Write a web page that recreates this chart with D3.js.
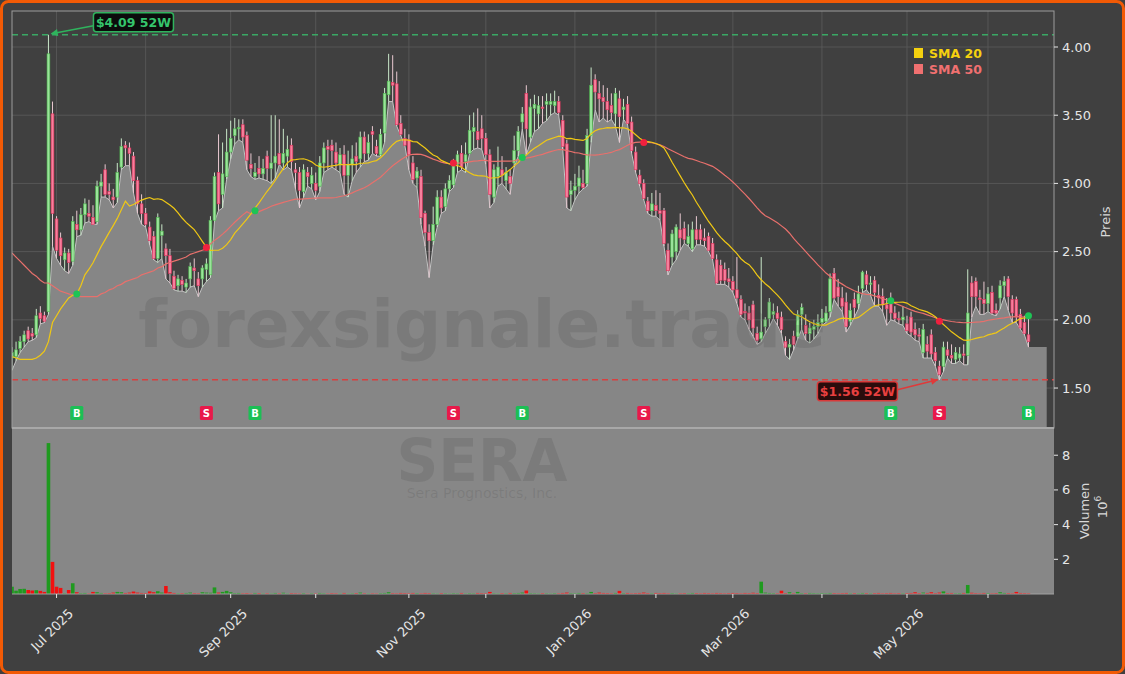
<!DOCTYPE html>
<html>
<head>
<meta charset="utf-8">
<script src="https://cdn.jsdelivr.net/npm/d3@7"></script>
<style>
  html, body { margin: 0; padding: 0; background: #404040; }
  svg { display: block; font-family: "DejaVu Sans", sans-serif; }
</style>
</head>
<body>
<svg id="chart"></svg>
<script>
// daily candles, index = trading day (0 = 2025-06-13), [open, high, low, close]
var OHLC = [
  [1.72,1.80,1.63,1.76],[1.73,1.84,1.70,1.78],[1.79,1.88,1.76,1.84],[1.84,1.92,1.80,1.89],[1.92,1.95,1.84,1.86],
  [1.90,1.94,1.85,1.88],[1.89,2.08,1.87,2.03],[2.05,2.10,1.97,2.01],[2.03,2.06,1.98,1.99],[2.06,4.09,2.04,3.95],
  [3.51,3.60,2.54,2.78],[2.74,2.76,2.45,2.51],[2.60,2.64,2.40,2.47],[2.44,2.53,2.36,2.49],[2.49,2.52,2.34,2.42],
  [2.43,2.76,2.40,2.72],[2.70,2.80,2.61,2.66],[2.66,2.82,2.62,2.77],[2.77,2.89,2.71,2.85],[2.78,2.88,2.72,2.76],
  [2.75,2.84,2.70,2.70],[2.72,3.02,2.70,2.98],[2.98,3.07,2.90,3.01],[3.10,3.14,2.90,2.92],[2.94,3.00,2.88,2.92],
  [2.90,2.96,2.82,2.88],[2.90,3.15,2.86,3.08],[3.12,3.33,3.10,3.27],[3.28,3.31,3.13,3.26],[3.26,3.30,3.13,3.22],
  [3.20,3.23,2.93,3.02],[3.02,3.05,2.78,2.85],[2.85,2.92,2.70,2.78],[2.78,2.82,2.68,2.70],[2.68,2.72,2.55,2.58],
  [2.61,2.65,2.44,2.45],[2.45,2.78,2.42,2.75],[2.62,2.70,2.45,2.65],[2.52,2.56,2.30,2.47],[2.47,2.52,2.27,2.34],
  [2.32,2.36,2.22,2.23],[2.25,2.33,2.21,2.30],[2.29,2.32,2.21,2.26],[2.24,2.30,2.20,2.27],[2.30,2.42,2.24,2.39],
  [2.38,2.45,2.25,2.36],[2.30,2.35,2.17,2.25],[2.30,2.40,2.24,2.38],[2.37,2.45,2.28,2.41],[2.33,2.76,2.31,2.73],
  [2.73,3.08,2.72,3.05],[3.08,3.36,2.80,2.85],[2.92,3.30,2.82,3.07],[3.05,3.40,3.03,3.23],[3.23,3.46,3.18,3.33],
  [3.35,3.48,3.29,3.40],[3.40,3.47,3.32,3.41],[3.43,3.47,3.30,3.34],[3.35,3.38,3.10,3.17],[3.14,3.22,3.05,3.11],
  [3.05,3.15,3.03,3.08],[3.11,3.20,3.04,3.07],[3.07,3.18,3.03,3.11],[3.20,3.24,3.02,3.11],[3.11,3.50,3.00,3.15],
  [3.15,3.50,3.04,3.20],[3.22,3.47,3.14,3.14],[3.15,3.40,3.10,3.22],[3.20,3.35,3.12,3.25],[3.28,3.33,3.10,3.16],
  [3.10,3.15,2.96,3.08],[3.08,3.12,2.82,2.95],[2.94,3.14,2.90,3.10],[3.08,3.12,2.98,3.05],[3.00,3.12,2.96,3.06],
  [3.00,3.08,2.88,2.95],[2.98,3.20,2.94,3.15],[3.15,3.30,3.08,3.26],[3.27,3.32,3.10,3.25],[3.28,3.32,3.12,3.24],
  [3.23,3.30,3.10,3.15],[3.14,3.26,3.08,3.21],[3.21,3.28,2.92,3.06],[3.06,3.24,2.90,3.14],[3.14,3.28,3.02,3.18],
  [3.20,3.30,3.08,3.16],[3.18,3.38,3.12,3.34],[3.34,3.38,3.16,3.22],[3.22,3.36,3.17,3.30],[3.38,3.42,3.22,3.36],
  [3.27,3.32,3.20,3.22],[3.21,3.40,3.20,3.36],[3.37,3.70,3.30,3.66],[3.65,3.95,3.60,3.75],[3.74,3.94,3.60,3.72],
  [3.73,3.82,3.42,3.43],[3.44,3.50,3.35,3.36],[3.33,3.40,3.28,3.28],[3.32,3.36,3.10,3.21],[3.15,3.20,3.00,3.03],
  [3.04,3.12,2.97,3.09],[3.05,3.10,2.70,2.75],[2.78,2.80,2.54,2.64],[2.64,2.70,2.31,2.58],[2.58,2.83,2.55,2.70],
  [2.70,2.95,2.68,2.90],[2.90,2.95,2.78,2.82],[2.83,3.00,2.80,2.96],[2.96,3.06,2.94,3.02],[2.99,3.18,2.97,3.15],
  [3.14,3.24,3.08,3.21],[3.22,3.28,3.10,3.12],[3.16,3.30,3.08,3.21],[3.22,3.50,3.22,3.39],[3.38,3.52,3.25,3.41],
  [3.38,3.55,3.26,3.32],[3.40,3.50,3.25,3.33],[3.33,3.37,3.14,3.21],[3.21,3.25,2.82,2.92],[2.90,3.14,2.86,3.10],
  [3.05,3.27,2.98,3.12],[3.10,3.20,3.00,3.06],[3.02,3.12,2.96,3.08],[3.05,3.10,2.92,3.00],[3.15,3.35,3.12,3.24],
  [3.24,3.42,3.20,3.38],[3.45,3.56,3.40,3.51],[3.66,3.72,3.21,3.40],[3.34,3.62,3.30,3.56],[3.55,3.65,3.38,3.58],
  [3.51,3.64,3.40,3.57],[3.56,3.64,3.44,3.55],[3.58,3.66,3.46,3.60],[3.58,3.66,3.50,3.60],[3.57,3.68,3.52,3.60],
  [3.60,3.64,3.50,3.52],[3.46,3.50,3.25,3.27],[3.29,3.32,2.82,2.90],[2.92,3.02,2.80,2.95],[2.95,3.07,2.88,2.98],
  [2.98,3.13,2.93,3.04],[3.00,3.10,2.96,2.97],[3.00,3.40,2.98,3.35],[3.35,3.85,3.30,3.72],[3.76,3.80,3.54,3.67],
  [3.66,3.75,3.45,3.62],[3.63,3.72,3.48,3.60],[3.60,3.70,3.45,3.54],[3.57,3.66,3.47,3.52],[3.51,3.70,3.42,3.66],
  [3.62,3.68,3.30,3.49],[3.54,3.62,3.47,3.56],[3.58,3.64,3.43,3.44],[3.45,3.49,3.22,3.24],[3.23,3.27,3.08,3.10],
  [3.06,3.10,2.98,3.00],[3.00,3.03,2.88,2.89],[2.87,2.90,2.78,2.80],[2.80,2.93,2.76,2.85],[2.84,2.95,2.76,2.80],
  [2.80,2.93,2.73,2.78],[2.80,2.82,2.54,2.56],[2.51,2.56,2.33,2.36],[2.46,2.66,2.40,2.63],[2.50,2.70,2.44,2.68],
  [2.66,2.78,2.51,2.60],[2.67,2.72,2.56,2.59],[2.56,2.70,2.54,2.61],[2.52,2.72,2.50,2.66],[2.66,2.76,2.55,2.59],
  [2.66,2.70,2.55,2.59],[2.60,2.67,2.54,2.58],[2.61,2.64,2.50,2.51],[2.56,2.60,2.44,2.45],[2.44,2.48,2.26,2.27],
  [2.40,2.44,2.26,2.29],[2.37,2.42,2.26,2.29],[2.30,2.38,2.24,2.28],[2.28,2.32,2.20,2.22],[2.22,2.46,2.12,2.16],
  [2.15,2.18,2.02,2.04],[2.06,2.12,2.00,2.05],[2.05,2.10,1.93,2.00],[2.11,2.14,1.88,1.94],[1.90,1.95,1.82,1.85],
  [1.86,2.46,1.84,1.91],[1.95,2.02,1.90,2.00],[2.01,2.16,1.95,2.13],[2.04,2.12,2.01,2.06],[2.05,2.10,1.96,2.01],
  [2.02,2.06,1.90,1.93],[1.84,1.88,1.74,1.80],[1.80,1.86,1.71,1.82],[1.88,1.92,1.78,1.82],[1.88,2.07,1.86,2.04],
  [2.04,2.12,1.93,2.09],[1.96,2.04,1.85,1.90],[1.90,1.98,1.83,1.94],[1.93,2.00,1.86,1.95],[1.95,2.04,1.90,1.98],
  [1.98,2.08,1.96,2.01],[1.99,2.10,1.98,2.05],[2.06,2.34,2.02,2.30],[2.34,2.38,2.15,2.16],[2.24,2.30,2.10,2.17],
  [2.16,2.24,2.06,2.10],[2.13,2.20,1.91,1.95],[1.99,2.12,1.96,2.07],[2.15,2.20,2.02,2.09],[2.12,2.25,2.08,2.19],
  [2.23,2.36,2.20,2.35],[2.33,2.36,2.22,2.26],[2.26,2.32,2.18,2.27],[2.29,2.32,2.10,2.20],[2.18,2.26,2.10,2.16],
  [2.17,2.23,2.06,2.11],[2.11,2.16,1.96,2.08],[2.14,2.20,2.00,2.05],[2.05,2.10,1.99,2.01],[2.01,2.06,1.97,2.00],
  [2.00,2.10,1.96,2.02],[1.97,2.03,1.90,1.92],[2.02,2.06,1.88,1.91],[1.93,1.98,1.85,1.89],[1.89,1.94,1.84,1.88],
  [1.76,1.97,1.72,1.93],[1.82,1.88,1.72,1.77],[1.89,1.93,1.72,1.75],[1.76,1.80,1.66,1.70],[1.66,1.70,1.56,1.60],
  [1.66,1.84,1.62,1.80],[1.78,1.84,1.72,1.74],[1.74,1.82,1.68,1.72],[1.71,1.80,1.68,1.76],[1.72,1.80,1.70,1.75],
  [1.75,1.82,1.67,1.74],[1.74,2.37,1.67,2.05],[2.27,2.32,2.02,2.17],[2.28,2.31,2.10,2.17],[2.16,2.22,2.04,2.15],
  [2.15,2.28,2.04,2.12],[2.12,2.24,2.06,2.19],[2.20,2.25,2.04,2.05],[2.07,2.12,2.03,2.05],[2.16,2.29,2.08,2.25],
  [2.25,2.32,2.17,2.28],[2.30,2.32,2.07,2.17],[2.15,2.18,1.98,2.05],[2.15,2.17,1.98,2.02],[2.04,2.08,1.93,1.94],
  [1.98,2.03,1.89,1.90],[1.89,2.02,1.80,1.84]
];

// volume in millions
var VOLUME = [
  0.42,0.19,0.29,0.30,0.23,0.20,0.22,0.18,0.12,8.70, 1.85,0.42,0.35,0.04,0.23,0.62,0.10,0.05,0.06,0.03,
  0.12,0.10,0.06,0.04,0.05,0.08,0.12,0.10,0.06,0.08, 0.14,0.08,0.06,0.05,0.15,0.10,0.16,0.08,0.46,0.10,
  0.06,0.04,0.05,0.06,0.08,0.05,0.04,0.10,0.08,0.07, 0.38,0.08,0.12,0.18,0.10,0.05,0.06,0.04,0.05,0.03,
  0.06,0.05,0.03,0.04,0.03,0.06,0.04,0.07,0.03,0.05, 0.04,0.03,0.05,0.02,0.04,0.03,0.06,0.04,0.03,0.05,
  0.04,0.03,0.06,0.03,0.04,0.05,0.08,0.04,0.03,0.04, 0.03,0.05,0.06,0.10,0.05,0.04,0.06,0.05,0.04,0.06,
  0.05,0.04,0.06,0.05,0.04,0.03,0.05,0.04,0.03,0.05, 0.04,0.06,0.03,0.05,0.04,0.06,0.05,0.04,0.12,0.04,
  0.03,0.05,0.04,0.06,0.05,0.06,0.08,0.20,0.05,0.04, 0.03,0.05,0.04,0.03,0.05,0.04,0.06,0.08,0.05,0.04,
  0.06,0.05,0.04,0.12,0.05,0.08,0.06,0.05,0.04,0.06, 0.18,0.05,0.06,0.04,0.05,0.06,0.08,0.05,0.04,0.06,
  0.05,0.06,0.04,0.05,0.03,0.04,0.05,0.04,0.06,0.05, 0.04,0.06,0.05,0.04,0.06,0.05,0.04,0.05,0.06,0.05,
  0.04,0.06,0.05,0.07,0.05,0.71,0.08,0.06,0.05,0.04, 0.19,0.05,0.10,0.04,0.12,0.05,0.04,0.06,0.05,0.04,
  0.05,0.04,0.06,0.05,0.04,0.05,0.06,0.04,0.05,0.04, 0.06,0.05,0.04,0.05,0.06,0.04,0.05,0.06,0.04,0.05,
  0.04,0.05,0.06,0.10,0.05,0.08,0.06,0.10,0.05,0.08, 0.15,0.05,0.06,0.04,0.05,0.06,0.52,0.07,0.05,0.04,
  0.06,0.05,0.04,0.05,0.10,0.06,0.05,0.04,0.12,0.06, 0.05,0.04
];

// moving averages before enough closes exist in the window
var SMA20_HEAD = [1.73,1.72,1.71,1.71,1.71,1.71,1.72,1.74,1.77,1.84,1.98,2.03,2.08,2.12,2.16,2.18,2.19,2.25,2.33];
var SMA50_HEAD = [2.49,2.46,2.43,2.40,2.37,2.34,2.32,2.29,2.27,2.27,2.25,2.23,2.21,2.20,2.19,2.18,2.18,2.17,2.17,2.17,
                  2.17,2.17,2.19,2.20,2.22,2.23,2.25,2.26,2.28,2.29,2.30,2.31,2.33,2.34,2.35,2.36,2.38,2.39,2.41,2.42,
                  2.43,2.44,2.45,2.46,2.48,2.49,2.50,2.51,2.52];

// buy / sell signals: candle index, type, level of the marker dot
var SIGNALS = [
  {i: 16, t: "B", p: 2.19}, {i: 48, t: "S", p: 2.53}, {i: 60, t: "B", p: 2.80},
  {i: 109, t: "S", p: 3.15}, {i: 126, t: "B", p: 3.19}, {i: 156, t: "S", p: 3.30},
  {i: 217, t: "B", p: 2.14}, {i: 229, t: "S", p: 1.99}, {i: 251, t: "B", p: 2.03}
];

var HIGH_52W = {i: 9, p: 4.09, label: "$4.09 52W"};
var LOW_52W = {i: 229, p: 1.56, label: "$1.56 52W"};

// month starts as trading-day index
var MONTH_TICKS = [
  {i: 11, label: "Jul 2025"}, {i: 33, label: ""}, {i: 54, label: "Sep 2025"}, {i: 75, label: ""},
  {i: 98, label: "Nov 2025"}, {i: 117, label: ""}, {i: 139, label: "Jan 2026"}, {i: 159, label: ""},
  {i: 178, label: "Mar 2026"}, {i: 200, label: ""}, {i: 221, label: "May 2026"}, {i: 241, label: ""}
];
var PRICE_TICKS = [1.5, 2.0, 2.5, 3.0, 3.5, 4.0];
var VOL_TICKS = [2, 4, 6, 8];

var width = 1125, height = 674;
var plotLeft = 12, plotRight = 1054, plotTop = 11, priceBottom = 428, volBottom = 594;

var CLOSE = OHLC.map(d => d[3]);
var candles = OHLC.map((d, i) => ({i: i, o: d[0], h: d[1], l: d[2], c: d[3], v: VOLUME[i]}));

function sma(n, head) {
  return CLOSE.map((c, i) => ({i: i, v: i < n - 1 ? head[i] : d3.mean(CLOSE.slice(i - n + 1, i + 1))}));
}
var sma20 = sma(20, SMA20_HEAD);
var sma50 = sma(50, SMA50_HEAD);

var x = d3.scaleLinear().domain([0, 257.3]).range([plotLeft, plotRight]);
var y = d3.scaleLinear().domain([1.207, 4.264]).range([priceBottom, plotTop]);
var yv = d3.scaleLinear().domain([0, 9.57]).range([volBottom, priceBottom]);

var svg = d3.select("#chart").attr("width", width).attr("height", height);

svg.append("rect")
  .attr("x", 1.5).attr("y", 1.5).attr("width", width - 3).attr("height", height - 3)
  .attr("rx", 7).attr("fill", "#404040").attr("stroke", "#f25a05").attr("stroke-width", 3);

var defs = svg.append("defs");
defs.append("clipPath").attr("id", "clipPrice").append("rect")
  .attr("x", plotLeft).attr("y", plotTop).attr("width", plotRight - plotLeft).attr("height", priceBottom - plotTop);
defs.append("clipPath").attr("id", "clipVol").append("rect")
  .attr("x", plotLeft).attr("y", priceBottom).attr("width", plotRight - plotLeft).attr("height", volBottom - priceBottom);
[["arrGreen", "#2fb35d"], ["arrRed", "#e03a3a"]].forEach(a => {
  defs.append("marker").attr("id", a[0]).attr("viewBox", "0 0 10 10")
    .attr("refX", 9).attr("refY", 5).attr("markerWidth", 9).attr("markerHeight", 7)
    .attr("markerUnits", "userSpaceOnUse").attr("orient", "auto")
    .append("path").attr("d", "M0,0L10,5L0,10z").attr("fill", a[1]);
});

// ---------- price panel ----------
var gp = svg.append("g").attr("clip-path", "url(#clipPrice)");

gp.append("g").selectAll("line").data(PRICE_TICKS).join("line")
  .attr("x1", plotLeft).attr("x2", plotRight).attr("y1", d => y(d)).attr("y2", d => y(d))
  .attr("stroke", "#5c5c5c").attr("stroke-width", 0.8);
gp.append("g").selectAll("line").data(MONTH_TICKS).join("line")
  .attr("x1", d => x(d.i)).attr("x2", d => x(d.i)).attr("y1", plotTop).attr("y2", priceBottom)
  .attr("stroke", "#5c5c5c").attr("stroke-width", 0.8);

// area under the lows, held flat a few days past the last candle
var last = candles[candles.length - 1];
var areaData = candles.concat([{i: last.i + 4.5, l: last.l}]);
gp.append("path").datum(areaData)
  .attr("fill", "#868686")
  .attr("d", d3.area().x(d => x(d.i)).y0(priceBottom).y1(d => y(d.l)));
gp.append("path").datum(candles)
  .attr("fill", "none").attr("stroke", "#c4c4c4").attr("stroke-width", 1)
  .attr("d", d3.line().x(d => x(d.i)).y(d => y(d.l)));

// volume panel background (drawn before the watermarks so they show on it)
svg.append("rect").attr("x", plotLeft).attr("y", priceBottom).attr("width", plotRight - plotLeft).attr("height", volBottom - priceBottom)
  .attr("fill", "#878787");

// watermarks
var wm = svg.append("g").attr("fill", "#404040").attr("fill-opacity", 0.16).attr("text-anchor", "middle");
wm.append("text").attr("x", 482).attr("y", 347).attr("font-size", 66).attr("font-weight", "bold").text("forexsignale.trade");
wm.append("text").attr("x", 482).attr("y", 481).attr("font-size", 58).attr("font-weight", "bold").text("SERA");
wm.append("text").attr("x", 482).attr("y", 498).attr("font-size", 14).text("Sera Prognostics, Inc.");

// 52 week lines
gp.append("line").attr("x1", plotLeft).attr("x2", plotRight)
  .attr("y1", y(HIGH_52W.p)).attr("y2", y(HIGH_52W.p))
  .attr("stroke", "#3aa864").attr("stroke-width", 1.5).attr("stroke-dasharray", "6,4");
gp.append("line").attr("x1", plotLeft).attr("x2", plotRight)
  .attr("y1", y(LOW_52W.p)).attr("y2", y(LOW_52W.p))
  .attr("stroke", "#d84040").attr("stroke-width", 1.5).attr("stroke-dasharray", "6,4");

// candles
var bw = 2.8;
var gc = gp.append("g");
gc.selectAll("line").data(candles).join("line")
  .attr("x1", d => x(d.i)).attr("x2", d => x(d.i))
  .attr("y1", d => y(d.h)).attr("y2", d => y(d.l))
  .attr("stroke", d => d.c >= d.o ? "#c8e6c8" : "#e8c8d0").attr("stroke-width", 1);
gc.selectAll("rect").data(candles).join("rect")
  .attr("x", d => x(d.i) - bw / 2).attr("width", bw)
  .attr("y", d => y(Math.max(d.o, d.c)))
  .attr("height", d => Math.max(1, Math.abs(y(d.o) - y(d.c))))
  .attr("fill", d => d.c >= d.o ? "#9be39b" : "#f77f9c")
  .attr("stroke", d => d.c >= d.o ? "#4cb84c" : "#e0305a").attr("stroke-width", 0.6);

// moving averages
var smaLine = d3.line().x(d => x(d.i)).y(d => y(d.v));
gp.append("path").datum(sma50).attr("fill", "none").attr("stroke", "#e8706c").attr("stroke-width", 1.2).attr("d", smaLine);
gp.append("path").datum(sma20).attr("fill", "none").attr("stroke", "#f0c814").attr("stroke-width", 1.2).attr("d", smaLine);

// signal dots and B / S boxes
gp.append("g").selectAll("circle").data(SIGNALS).join("circle")
  .attr("cx", d => x(d.i)).attr("cy", d => y(d.p)).attr("r", 3.5)
  .attr("fill", d => d.t === "B" ? "#1ec455" : "#f0203e");
var gs = gp.append("g").selectAll("g").data(SIGNALS).join("g")
  .attr("transform", d => `translate(${x(d.i)},${priceBottom - 15})`);
gs.append("rect").attr("x", -6.5).attr("y", -7).attr("width", 13).attr("height", 14).attr("rx", 1.5)
  .attr("fill", d => d.t === "B" ? "#1cbf55" : "#e8194a");
gs.append("text").attr("text-anchor", "middle").attr("dy", "0.36em")
  .attr("font-size", 10).attr("font-weight", "bold").attr("fill", "#fff").text(d => d.t);

// frame
svg.append("rect").attr("x", plotLeft).attr("y", plotTop).attr("width", plotRight - plotLeft).attr("height", priceBottom - plotTop)
  .attr("fill", "none").attr("stroke", "#9c9c9c").attr("stroke-width", 1);

// 52W annotations
var hx = x(HIGH_52W.i), hy = y(HIGH_52W.p);
svg.append("line").attr("x1", hx + 45).attr("y1", hy - 9).attr("x2", hx + 3).attr("y2", hy - 1)
  .attr("stroke", "#2fb35d").attr("stroke-width", 1.6).attr("marker-end", "url(#arrGreen)");
var hb = svg.append("g").attr("transform", `translate(${hx + 45},${hy - 22})`);
hb.append("rect").attr("width", 80).attr("height", 19).attr("rx", 3)
  .attr("fill", "#0c0c0c").attr("stroke", "#2fb35d").attr("stroke-width", 1.5);
hb.append("text").attr("x", 40).attr("y", 14).attr("text-anchor", "middle")
  .attr("font-size", 12.5).attr("font-weight", "bold").attr("fill", "#35c46c").text(HIGH_52W.label);

var lx = x(LOW_52W.i), ly = y(LOW_52W.p);
svg.append("line").attr("x1", lx - 42).attr("y1", ly + 10).attr("x2", lx - 2).attr("y2", ly)
  .attr("stroke", "#e03a3a").attr("stroke-width", 1.6).attr("marker-end", "url(#arrRed)");
var lb = svg.append("g").attr("transform", `translate(${lx - 122},${ly + 2})`);
lb.append("rect").attr("width", 80).attr("height", 19).attr("rx", 3)
  .attr("fill", "#2a0c0c").attr("stroke", "#d83a3a").attr("stroke-width", 1.5);
lb.append("text").attr("x", 40).attr("y", 14).attr("text-anchor", "middle")
  .attr("font-size", 12.5).attr("font-weight", "bold").attr("fill", "#e84040").text(LOW_52W.label);

// legend
var legend = svg.append("g").attr("transform", "translate(914,48)");
[["SMA 20", "#f5d10f"], ["SMA 50", "#f07070"]].forEach((l, k) => {
  legend.append("rect").attr("x", 0).attr("y", k * 16).attr("width", 9).attr("height", 10).attr("fill", l[1]);
  legend.append("text").attr("x", 15).attr("y", k * 16 + 9.5)
    .attr("font-size", 12.5).attr("font-weight", "bold").attr("fill", l[1]).text(l[0]);
});

// ---------- volume panel ----------
var gv = svg.append("g").attr("clip-path", "url(#clipVol)");
gv.selectAll("rect").data(candles).join("rect")
  .attr("x", d => x(d.i) - 1.8).attr("width", 3.6)
  .attr("y", d => yv(d.v)).attr("height", d => volBottom - yv(d.v))
  .attr("fill", d => d.c >= d.o ? "#1f9a1f" : "#f21010");
svg.append("line").attr("x1", plotLeft).attr("x2", plotRight).attr("y1", priceBottom).attr("y2", priceBottom)
  .attr("stroke", "#a8a8a8").attr("stroke-width", 2);
svg.append("line").attr("x1", plotLeft).attr("x2", plotRight).attr("y1", volBottom).attr("y2", volBottom)
  .attr("stroke", "#a0a0a0").attr("stroke-width", 1);

// ---------- axes ----------
var axisCol = "#e6e6e6";
var yAxis = svg.append("g").selectAll("g").data(PRICE_TICKS).join("g")
  .attr("transform", d => `translate(${plotRight},${y(d)})`);
yAxis.append("line").attr("x2", 4).attr("stroke", axisCol);
yAxis.append("text").attr("x", 8).attr("dy", "0.35em").attr("font-size", 13).attr("fill", axisCol)
  .text(d => d3.format(".2f")(d));

var vAxis = svg.append("g").selectAll("g").data(VOL_TICKS).join("g")
  .attr("transform", d => `translate(${plotRight},${yv(d)})`);
vAxis.append("line").attr("x2", 4).attr("stroke", axisCol);
vAxis.append("text").attr("x", 8).attr("dy", "0.35em").attr("font-size", 13).attr("fill", axisCol).text(d => d);

svg.append("text").attr("transform", "translate(1110,222) rotate(-90)").attr("text-anchor", "middle")
  .attr("font-size", 13).attr("fill", "#d8d8d8").text("Preis");
svg.append("text").attr("transform", "translate(1089,511) rotate(-90)").attr("text-anchor", "middle")
  .attr("font-size", 13).attr("fill", "#d8d8d8").text("Volumen");
var sci = svg.append("text").attr("transform", "translate(1107,507) rotate(-90)").attr("text-anchor", "middle")
  .attr("font-size", 13).attr("fill", "#d8d8d8");
sci.append("tspan").text("10");
sci.append("tspan").attr("dy", -6).attr("font-size", 9).text("6");

var xAxis = svg.append("g").selectAll("g").data(MONTH_TICKS).join("g")
  .attr("transform", d => `translate(${x(d.i)},${volBottom})`);
xAxis.append("line").attr("y2", 4).attr("stroke", axisCol);
xAxis.append("text").attr("transform", "translate(11,14) rotate(-45)").attr("text-anchor", "end")
  .attr("dy", "0.7em").attr("font-size", 13).attr("fill", axisCol).text(d => d.label);
</script>
</body>
</html>
